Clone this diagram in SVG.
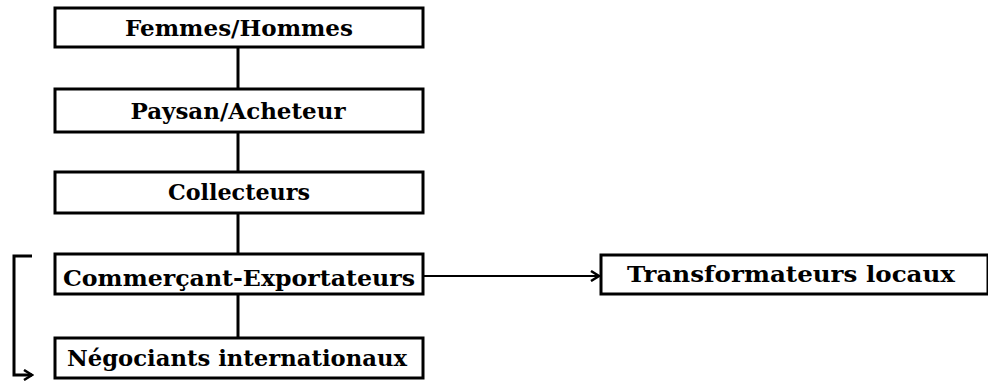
<svg xmlns="http://www.w3.org/2000/svg" width="988" height="383" viewBox="0 0 988 383">
<defs>
<style>
.box{fill:#fff;stroke:#000;stroke-width:3}
.t{font-family:"DejaVu Serif","Liberation Serif",serif;font-weight:bold;font-size:22px;fill:#000;text-anchor:middle}
.c{fill:none;stroke:#000;stroke-width:3}
</style>
<marker id="ah" markerWidth="12" markerHeight="12" refX="10" refY="6" orient="auto" markerUnits="userSpaceOnUse">
<path d="M2,1 L10,6 L2,11" fill="none" stroke="#000" stroke-width="2.5"/>
</marker>
</defs>
<rect width="988" height="383" fill="#fff"/>
<g id="connectors">
<line class="c" x1="238" y1="47" x2="238" y2="89"/>
<line class="c" x1="238" y1="132" x2="238" y2="172"/>
<line class="c" x1="238" y1="213" x2="238" y2="254"/>
<line class="c" x1="238" y1="294" x2="238" y2="338"/>
<line class="c" x1="423" y1="276" x2="599" y2="276" marker-end="url(#ah)" style="stroke-width:2"/>
<path class="c" d="M32,256 L14,256 L14,375 L32,375" marker-end="url(#ah)"/>
</g>
<g id="femmes"><rect class="box" x="55" y="8" width="368" height="39"/><text class="t" x="239" y="36" textLength="228" lengthAdjust="spacingAndGlyphs">Femmes/Hommes</text></g>
<g id="paysan"><rect class="box" x="55" y="89" width="368" height="43"/><text class="t" x="238" y="119" textLength="215" lengthAdjust="spacingAndGlyphs">Paysan/Acheteur</text></g>
<g id="collecteurs"><rect class="box" x="55" y="172" width="368" height="41"/><text class="t" x="239" y="200" textLength="142" lengthAdjust="spacingAndGlyphs">Collecteurs</text></g>
<g id="commercant"><rect class="box" x="55" y="254" width="368" height="40"/><text class="t" x="239" y="286" textLength="352" lengthAdjust="spacingAndGlyphs">Commerçant-Exportateurs</text></g>
<g id="negociants"><rect class="box" x="55" y="338" width="368" height="40"/><text class="t" x="237" y="366" textLength="340" lengthAdjust="spacingAndGlyphs">Négociants internationaux</text></g>
<g id="transformateurs"><rect class="box" x="601" y="255" width="387" height="39"/><text class="t" x="791" y="282" textLength="328" lengthAdjust="spacingAndGlyphs">Transformateurs locaux</text></g>
</svg>
